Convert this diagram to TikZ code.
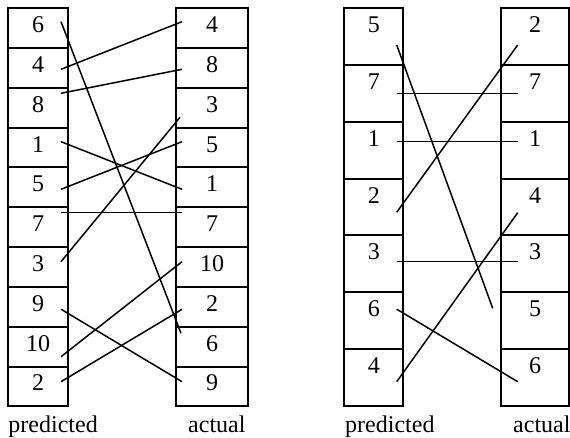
\documentclass[tikz,border=0pt]{standalone}
\usepackage{fontspec}
\setmainfont{Liberation Serif}
\usetikzlibrary{positioning}

\begin{document}
\begin{tikzpicture}[x=1pt,y=-1pt,font=\fontsize{24}{28}\selectfont,
    cell/.style={draw,line width=2pt,outer sep=0pt,inner ysep=0pt,text height=24.4pt,anchor=north west},
    short/.style={cell,text depth=15.4pt},
    tall/.style={cell,text depth=32.4pt},
    caption/.style={anchor=base west,inner sep=0pt},
    link/.style={line width=1.5pt}]
        \useasboundingbox (0,0) rectangle (570,438);
        % ten-row ranking
        \foreach \v [count=\i from 0] in {6,4,8,1,5,7,3,9,10,2}
            \node[short,minimum width=59.4pt] (l\i) at (8.3,8.3+39.8*\i) {\v};
        \foreach \v [count=\i from 0] in {4,8,3,5,1,7,10,2,6,9}
            \node[short,minimum width=72.3pt,text width=64pt,align=center] (r\i) at (176,8.3+39.8*\i) {\v};
        \node[caption] (lpred) at (8.3,432) {predicted};
        \node[caption] (lact) at (188,432) {actual};
        \draw[link] ([shift={(-6.7,13.4)}]l0.north east) -- ([shift={(5,6.6)}]r8.north west);
        \draw[link] ([shift={(-6.7,21.2)}]l1.north east) -- ([shift={(6,13.4)}]r0.north west);
        \draw[link] ([shift={(-6.7,5.4)}]l2.north east) -- ([shift={(6,21.2)}]r1.north west);
        \draw[link] ([shift={(-6.7,14)}]l3.north east) -- ([shift={(6,21.8)}]r4.north west);
        \draw[link] ([shift={(-6.7,21.8)}]l4.north east) -- ([shift={(6,14)}]r3.north west);
        \draw[link] ([shift={(-6.7,5)}]l5.north east) -- ([shift={(6,5)}]r5.north west);
        \draw[link] ([shift={(-6.7,14.6)}]l6.north east) -- ([shift={(4,29.4)}]r2.north west);
        \draw[link] ([shift={(-6.7,22.3)}]l7.north east) -- ([shift={(6,15.2)}]r9.north west);
        \draw[link] ([shift={(-6.7,30)}]l8.north east) -- ([shift={(6,14.6)}]r6.north west);
        \draw[link] ([shift={(-6.7,15.2)}]l9.north east) -- ([shift={(6,22.4)}]r7.north west);
        % seven-row ranking
        \foreach \v [count=\i from 0] in {5,7,1,2,3,6,4}
            \node[tall,minimum width=59pt] (a\i) at (344.3,8.3+56.8*\i) {\v};
        \foreach \v [count=\i from 0] in {2,7,1,4,3,5,6}
            \node[tall,minimum width=68.6pt,text width=58pt,align=center] (b\i) at (500.7,8.3+56.8*\i) {\v};
        \node[caption] (rpred) at (345,432) {predicted};
        \node[caption] (ract) at (513,432) {actual};
        \draw[link] ([shift={(-6.6,36.7)}]a0.north east) -- ([shift={(-8,16)}]b5.north west);
        \draw[link] ([shift={(-6.6,28.2)}]a1.north east) -- ([shift={(17,28.2)}]b1.north west);
        \draw[link] ([shift={(-6.6,19.8)}]a2.north east) -- ([shift={(17,19.8)}]b2.north west);
        \draw[link] ([shift={(-6.6,33.6)}]a3.north east) -- ([shift={(17,36.7)}]b0.north west);
        \draw[link] ([shift={(-6.6,26)}]a4.north east) -- ([shift={(17,26)}]b4.north west);
        \draw[link] ([shift={(-6.6,16.9)}]a5.north east) -- ([shift={(17,32.6)}]b6.north west);
        \draw[link] ([shift={(-6.6,32.6)}]a6.north east) -- ([shift={(17,34)}]b3.north west);
    \end{tikzpicture}
\end{document}
